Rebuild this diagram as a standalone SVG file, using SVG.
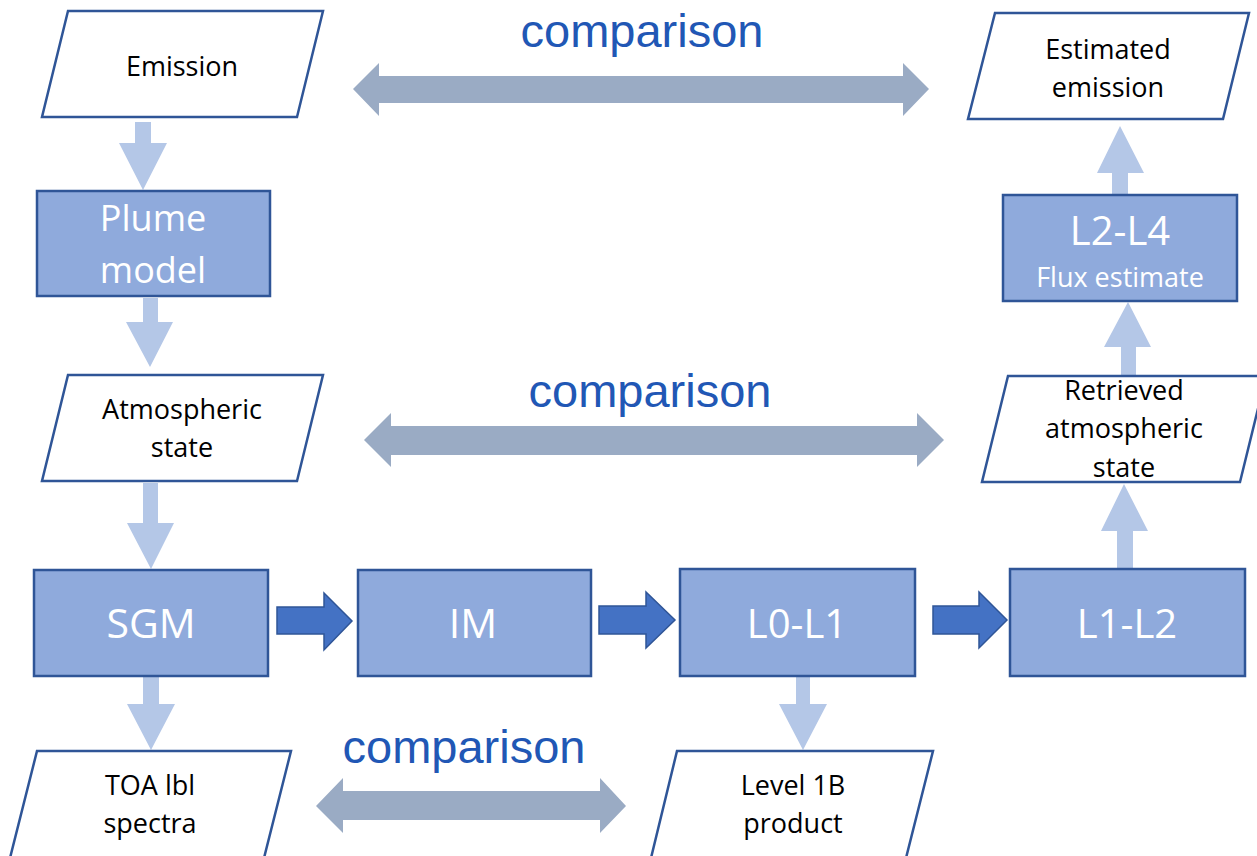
<svg xmlns="http://www.w3.org/2000/svg" width="1257" height="856" viewBox="0 0 1257 856">
<style>
.io{fill:#FFFFFF;stroke:#2F5597;stroke-width:2.5;stroke-linejoin:miter}
.proc{fill:#8FAADC;stroke:#2F5597;stroke-width:2.5}
.lt{fill:#B4C7E7;stroke:none}
.dk{fill:#4472C4;stroke:#2F5597;stroke-width:1.5;stroke-linejoin:miter}
.gr{fill:#9AABC4;stroke:none}
.tb{font-family:"Open Sans","Noto Sans","DejaVu Sans",sans-serif;font-size:27px;fill:#000000;text-anchor:middle}
.tw{font-family:"Open Sans","Noto Sans","DejaVu Sans",sans-serif;fill:#FFFFFF;text-anchor:middle}
.cmp{font-family:"Liberation Sans",Arial,sans-serif;font-size:47px;fill:#2157B5;text-anchor:middle}
</style>
<rect x="0" y="0" width="1257" height="856" fill="#FFFFFF"/>
<g id="connectors">
<polygon class="lt" points="135,122 151,122 151,143 167,143 143,190 119,143 135,143"/>
<polygon class="lt" points="143,298 158,298 158,322 173,322 150,367 126,322 143,322"/>
<polygon class="lt" points="143,483 158,483 158,523 174,523 151,569 127,523 143,523"/>
<polygon class="lt" points="143,677 159,677 159,704 175,704 151,750 127,704 143,704"/>
<polygon class="lt" points="796,677 810,677 810,704 827,704 803,750 779,704 796,704"/>
<polygon class="lt" points="1117,569 1133,569 1133,531 1148,531 1124,484 1101,531 1117,531"/>
<polygon class="lt" points="1121,375 1136,375 1136,347 1151,347 1128,302 1104,347 1121,347"/>
<polygon class="lt" points="1112,195 1128,195 1128,173 1144,173 1120,126 1097,173 1112,173"/>
<polygon class="dk" points="277,607 324,607 324,593 352,621 324,650 324,634 277,634"/>
<polygon class="dk" points="599,606 646,606 646,592 675,620 646,648 646,634 599,634"/>
<polygon class="dk" points="933,606 979,606 979,592 1007,620 979,648 979,634 933,634"/>
<polygon class="gr" points="353,89 379,63 379,76 903,76 903,63 929,89 903,116 903,103 379,103 379,116"/>
<polygon class="gr" points="364,440 391,413 391,426 917,426 917,413 944,440 917,467 917,455 391,455 391,467"/>
<polygon class="gr" points="316,806 343,778 343,791 600,791 600,778 626,806 600,833 600,820 343,820 343,833"/>
<text class="cmp" x="642" y="47">comparison</text>
<text class="cmp" x="650" y="407">comparison</text>
<text class="cmp" x="464" y="763">comparison</text>
</g>
<g id="emission">
<polygon class="io" points="68,11 323,11 297,117 42,117"/>
<text class="tb" x="182" y="76">Emission</text>
</g>
<g id="plume-model">
<rect class="proc" x="37" y="191" width="233" height="105"/>
<text class="tw" x="153" y="231" font-size="36">Plume</text>
<text class="tw" x="153" y="283" font-size="36">model</text>
</g>
<g id="atmospheric-state">
<polygon class="io" points="68,375 323,375 297,481 42,481"/>
<text class="tb" x="182" y="419">Atmospheric</text>
<text class="tb" x="182" y="457">state</text>
</g>
<g id="sgm">
<rect class="proc" x="34" y="570" width="234" height="106"/>
<text class="tw" x="151" y="638" font-size="41">SGM</text>
</g>
<g id="im">
<rect class="proc" x="358" y="570" width="233" height="106"/>
<text class="tw" x="473" y="638" font-size="41">IM</text>
</g>
<g id="l0-l1">
<rect class="proc" x="680" y="569" width="235" height="107"/>
<text class="tw" x="797" y="638" font-size="40">L0-L1</text>
</g>
<g id="l1-l2">
<rect class="proc" x="1010" y="569" width="235" height="107"/>
<text class="tw" x="1127" y="638" font-size="40">L1-L2</text>
</g>
<g id="l2-l4">
<rect class="proc" x="1003" y="195" width="234" height="106"/>
<text class="tw" x="1120" y="245" font-size="40">L2-L4</text>
<text class="tw" x="1120" y="287" font-size="27">Flux estimate</text>
</g>
<g id="estimated-emission">
<polygon class="io" points="995,13 1249,13 1223,119 968,119"/>
<text class="tb" x="1108" y="59">Estimated</text>
<text class="tb" x="1108" y="97">emission</text>
</g>
<g id="retrieved-atmospheric-state">
<polygon class="io" points="1008,376 1266,376 1240,482 982,482"/>
<text class="tb" x="1124" y="400">Retrieved</text>
<text class="tb" x="1124" y="438">atmospheric</text>
<text class="tb" x="1124" y="477">state</text>
</g>
<g id="toa-lbl-spectra">
<polygon class="io" points="37,751 291,751 264,858 10,858"/>
<text class="tb" x="150" y="795">TOA lbl</text>
<text class="tb" x="150" y="833">spectra</text>
</g>
<g id="level-1b-product">
<polygon class="io" points="677,751 933,751 906,858 651,858"/>
<text class="tb" x="793" y="795">Level 1B</text>
<text class="tb" x="793" y="833">product</text>
</g>
</svg>
